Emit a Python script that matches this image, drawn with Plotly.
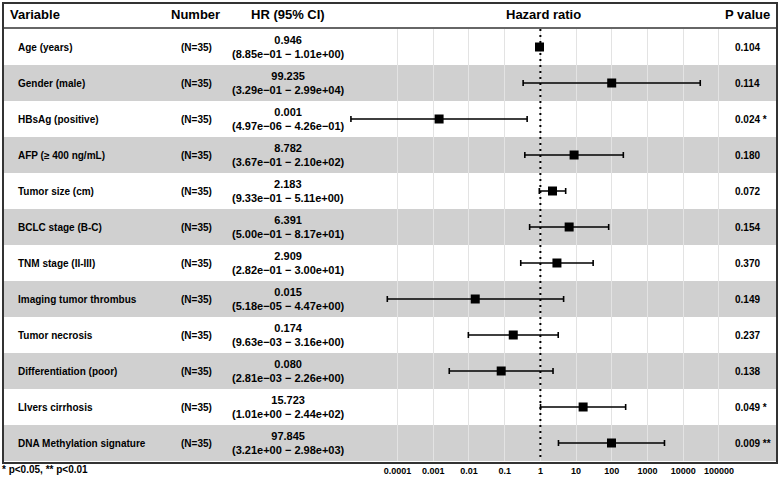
import plotly.graph_objects as go

# ---------------- data ----------------
variables = ["Age (years)", "Gender (male)", "HBsAg (positive)", "AFP (≥ 400 ng/mL)",
             "Tumor size (cm)", "BCLC stage (B-C)", "TNM stage (II-III)",
             "Imaging tumor thrombus", "Tumor necrosis", "Differentiation (poor)",
             "LIvers cirrhosis", "DNA Methylation signature"]
numbers = ["(N=35)"] * 12
hr = [0.946, 99.235, 0.00146, 8.782, 2.183, 6.391, 2.909, 0.015, 0.174, 0.080, 15.723, 97.845]
ci_low = [8.85e-01, 3.29e-01, 4.97e-06, 3.67e-01, 9.33e-01, 5.00e-01, 2.82e-01,
          5.18e-05, 9.63e-03, 2.81e-03, 1.01e+00, 3.21e+00]
ci_high = [1.01e+00, 2.99e+04, 4.26e-01, 2.10e+02, 5.11e+00, 8.17e+01, 3.00e+01,
           4.47e+00, 3.16e+00, 2.26e+00, 2.44e+02, 2.98e+03]
p_values = ["0.104", "0.114", "0.024 *", "0.180", "0.072", "0.154", "0.370",
            "0.149", "0.237", "0.138", "0.049 *", "0.009 **"]
tick_vals = [1e-4, 1e-3, 1e-2, 1e-1, 1, 10, 100, 1000, 10000, 100000]
tick_text = ["0.0001", "0.001", "0.01", "0.1", "1", "10", "100", "1000", "10000", "100000"]
headers = ["Variable", "Number", "HR (95% CI)", "Hazard ratio", "P value"]
footnote = "* p<0.05, ** p<0.01"

# ---------------- geometry ----------------
W, H = 779, 478
TOP, BOT = 29, 461          # plot area in pixels
n = len(variables)
rows = list(range(n))
FONT = "Liberation Sans, Arial, Helvetica, sans-serif"


def px(x):
    return x / W


def py(y):
    return (BOT - y) / (BOT - TOP)


def sci(v):
    return f"{v:.2e}".replace("-", "\u2212")


fig = go.Figure()

# row shading
shapes = []
for i in rows:
    if i % 2 == 1:
        shapes.append(dict(type="rect", xref="paper", yref="y", x0=px(3), x1=px(777),
                           y0=i - 0.5, y1=i + 0.5, fillcolor="#d0d0d0",
                           line=dict(width=0), layer="below"))
# header separator line
shapes.append(dict(type="line", xref="paper", yref="paper", x0=px(3), x1=px(777),
                   y0=py(28), y1=py(28), line=dict(color="#333333", width=1.5)))
# outer border
shapes.append(dict(type="rect", xref="paper", yref="paper", x0=px(3), x1=px(777),
                   y0=py(463), y1=py(3), line=dict(color="#333333", width=2),
                   fillcolor="rgba(0,0,0,0)"))

# reference line at HR = 1
fig.add_trace(go.Scatter(x=[1, 1], y=[-0.5, n - 0.5], mode="lines",
                         line=dict(color="black", width=2, dash="2px,4px"),
                         hoverinfo="skip", showlegend=False))

# estimates with CI
fig.add_trace(go.Scatter(
    x=hr, y=rows, mode="markers",
    marker=dict(symbol="square", size=9, color="black"),
    error_x=dict(type="data", symmetric=False,
                 array=[h2 - v for v, h2 in zip(hr, ci_high)],
                 arrayminus=[v - l for v, l in zip(hr, ci_low)],
                 color="black", thickness=1.6, width=3),
    showlegend=False))

ann = []
# headers
hdr_x = [(8, "left"), (195, "center"), (288, "center"), (543, "center"), (747, "center")]
for t, (x, anc) in zip(headers, hdr_x):
    ann.append(dict(text=f"<b>{t}</b>", xref="paper", yref="paper", x=px(x), y=py(15),
                    xanchor=anc, yanchor="middle", showarrow=False,
                    font=dict(size=13, color="black", family=FONT)))
# row texts
for i in rows:
    ann.append(dict(text=f"<b>{variables[i]}</b>", xref="paper", yref="y", x=px(16), y=i,
                    xanchor="left", yanchor="middle", showarrow=False,
                    font=dict(size=10, color="black", family=FONT)))
    ann.append(dict(text=f"<b>{numbers[i]}</b>", xref="paper", yref="y", x=px(197), y=i,
                    xanchor="center", yanchor="middle", showarrow=False,
                    font=dict(size=10, color="black", family=FONT)))
    hr_txt = f"<b>{hr[i]:.3f}<br>({sci(ci_low[i])} \u2212 {sci(ci_high[i])})</b>"
    ann.append(dict(text=hr_txt, xref="paper", yref="y", x=px(288), y=i,
                    xanchor="center", yanchor="middle", showarrow=False,
                    font=dict(size=11, color="black", family=FONT)))
    ann.append(dict(text=f"<b>{p_values[i]}</b>", xref="paper", yref="y", x=px(733), y=i,
                    xanchor="left", yanchor="middle", showarrow=False,
                    font=dict(size=10, color="black", family=FONT)))
# footnote
ann.append(dict(text=f"<b>{footnote}</b>", xref="paper", yref="paper", x=px(0), y=py(470),
                xanchor="left", yanchor="middle", showarrow=False,
                font=dict(size=10, color="black", family=FONT)))

L = -4 - 397.5 / 35.72
R = L + W / 35.72

fig.update_layout(
    width=W, height=H,
    margin=dict(l=0, r=0, t=TOP, b=H - BOT, pad=0),
    paper_bgcolor="white", plot_bgcolor="white",
    shapes=shapes, annotations=ann,
    xaxis=dict(type="log", range=[L, R], tickvals=tick_vals,
               ticktext=[f"<b>{t}</b>" for t in tick_text],
               showgrid=True, gridcolor="#e3e3e3", gridwidth=1,
               zeroline=False, showline=False, ticks="", ticklabelstandoff=3,
               tickfont=dict(size=9, color="black", family=FONT)),
    yaxis=dict(range=[n - 0.5, -0.5], visible=False, showgrid=False, zeroline=False),
)

fig.write_html("out.html", config={"displayModeBar": False},
               post_script="document.body.style.margin='0';document.body.style.overflow='hidden';")
